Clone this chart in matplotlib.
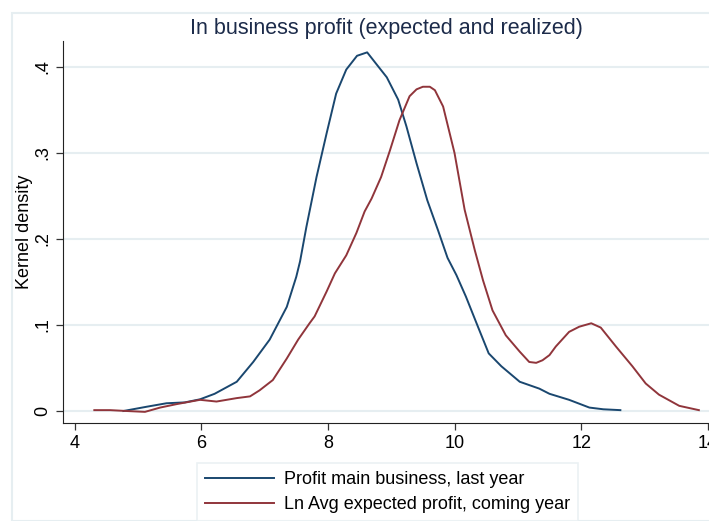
import matplotlib
matplotlib.use("Agg")
import matplotlib.pyplot as plt
from matplotlib.patches import Rectangle

plt.rcParams["font.family"] = ["Liberation Sans", "DejaVu Sans"]

# realized profit (last year), kernel density
x_real = [4.77, 5.14, 5.45, 5.74, 5.98, 6.21, 6.56, 6.82, 7.08, 7.35, 7.50, 7.56,
          7.66, 7.82, 7.98, 8.13, 8.29, 8.46, 8.62, 8.78, 8.93, 9.11, 9.24, 9.40,
          9.57, 9.74, 9.89, 10.03, 10.18, 10.37, 10.54, 10.74, 11.03, 11.34, 11.50,
          11.81, 12.13, 12.35, 12.62]
y_real = [0.000, 0.005, 0.009, 0.010, 0.0136, 0.020, 0.034, 0.057, 0.083, 0.121, 0.156, 0.174,
          0.214, 0.272, 0.323, 0.369, 0.397, 0.413, 0.417, 0.402, 0.388, 0.362, 0.331, 0.288,
          0.245, 0.210, 0.178, 0.158, 0.133, 0.098, 0.067, 0.052, 0.034, 0.026, 0.020,
          0.013, 0.004, 0.002, 0.001]

# expected profit (coming year)
x_exp = [4.31, 4.56, 4.82, 5.11, 5.35, 5.61, 5.98, 6.24, 6.56, 6.77, 6.92, 7.13,
         7.35, 7.53, 7.71, 7.79, 7.98, 8.11, 8.29, 8.45, 8.58, 8.69, 8.84, 8.98,
         9.13, 9.29, 9.40, 9.50, 9.61, 9.69, 9.82, 10.00, 10.16, 10.32, 10.45, 10.60,
         10.81, 11.03, 11.18, 11.29, 11.39, 11.50, 11.60, 11.81, 11.97, 12.16, 12.31,
         12.55, 12.81, 13.02, 13.23, 13.55, 13.86]
y_exp = [0.001, 0.001, 0.000, -0.001, 0.004, 0.008, 0.013, 0.011, 0.015, 0.017, 0.024, 0.036,
         0.061, 0.083, 0.102, 0.110, 0.139, 0.160, 0.181, 0.207, 0.232, 0.247, 0.272, 0.303,
         0.338, 0.366, 0.374, 0.377, 0.377, 0.373, 0.354, 0.300, 0.234, 0.187, 0.152, 0.117,
         0.088, 0.069, 0.057, 0.056, 0.059, 0.065, 0.075, 0.092, 0.098, 0.102, 0.097,
         0.075, 0.052, 0.032, 0.019, 0.006, 0.001]

xticks = [4, 6, 8, 10, 12, 14]
yticks = [0, 0.1, 0.2, 0.3, 0.4]
ytick_labels = ["0", ".1", ".2", ".3", ".4"]
labels = ["Profit main business, last year", "Ln Avg expected profit, coming year"]

navy = "#1a476f"
maroon = "#90353b"
grid_col = "#e6eef1"

fig = plt.figure(figsize=(7.09, 5.21), dpi=100)
fig.patches.append(Rectangle((11.5 / 709, 0), 1, 1 - 12.7 / 521, transform=fig.transFigure,
                             fill=False, edgecolor=grid_col, linewidth=1.5, zorder=0))

ax = fig.add_axes([63.3 / 709, 1 - 423 / 521, 1 - 63.3 / 709, (423 - 41) / 521])
ax.plot(x_real, y_real, color=navy, lw=1.4, label=labels[0])
ax.plot(x_exp, y_exp, color=maroon, lw=1.4, label=labels[1])

ax.set_xlim(3.82, 14.02)
ax.set_ylim(-0.01395, 0.4302)
ax.set_xticks(xticks)
ax.set_xticklabels([str(t) for t in xticks], fontsize=13)
ax.set_yticks(yticks)
ax.set_yticklabels(ytick_labels, fontsize=13, rotation=90, va="center")
ax.tick_params(length=5, width=0.9, color="#333333")
ax.tick_params(axis="x", pad=4)
ax.grid(axis="y", color=grid_col, lw=1.5)
ax.set_axisbelow(True)
for s in ["top", "right"]:
    ax.spines[s].set_visible(False)
for s in ["left", "bottom"]:
    ax.spines[s].set_color("#222222")
ax.set_ylabel("Kernel density", fontsize=13, labelpad=1)
ax.set_title("In business profit (expected and realized)", fontsize=15.5, color="#1c2b4a", pad=5)

leg = fig.legend(loc="upper left", bbox_to_anchor=(197 / 709, 1 - 463 / 521),
                 borderaxespad=0, fontsize=13, frameon=True, fancybox=False,
                 handlelength=3.8, handletextpad=0.55, borderpad=0.45, labelspacing=0.45)
leg.get_frame().set_edgecolor(grid_col)
leg.get_frame().set_linewidth(1.2)

fig.savefig("out.png", dpi=100)
